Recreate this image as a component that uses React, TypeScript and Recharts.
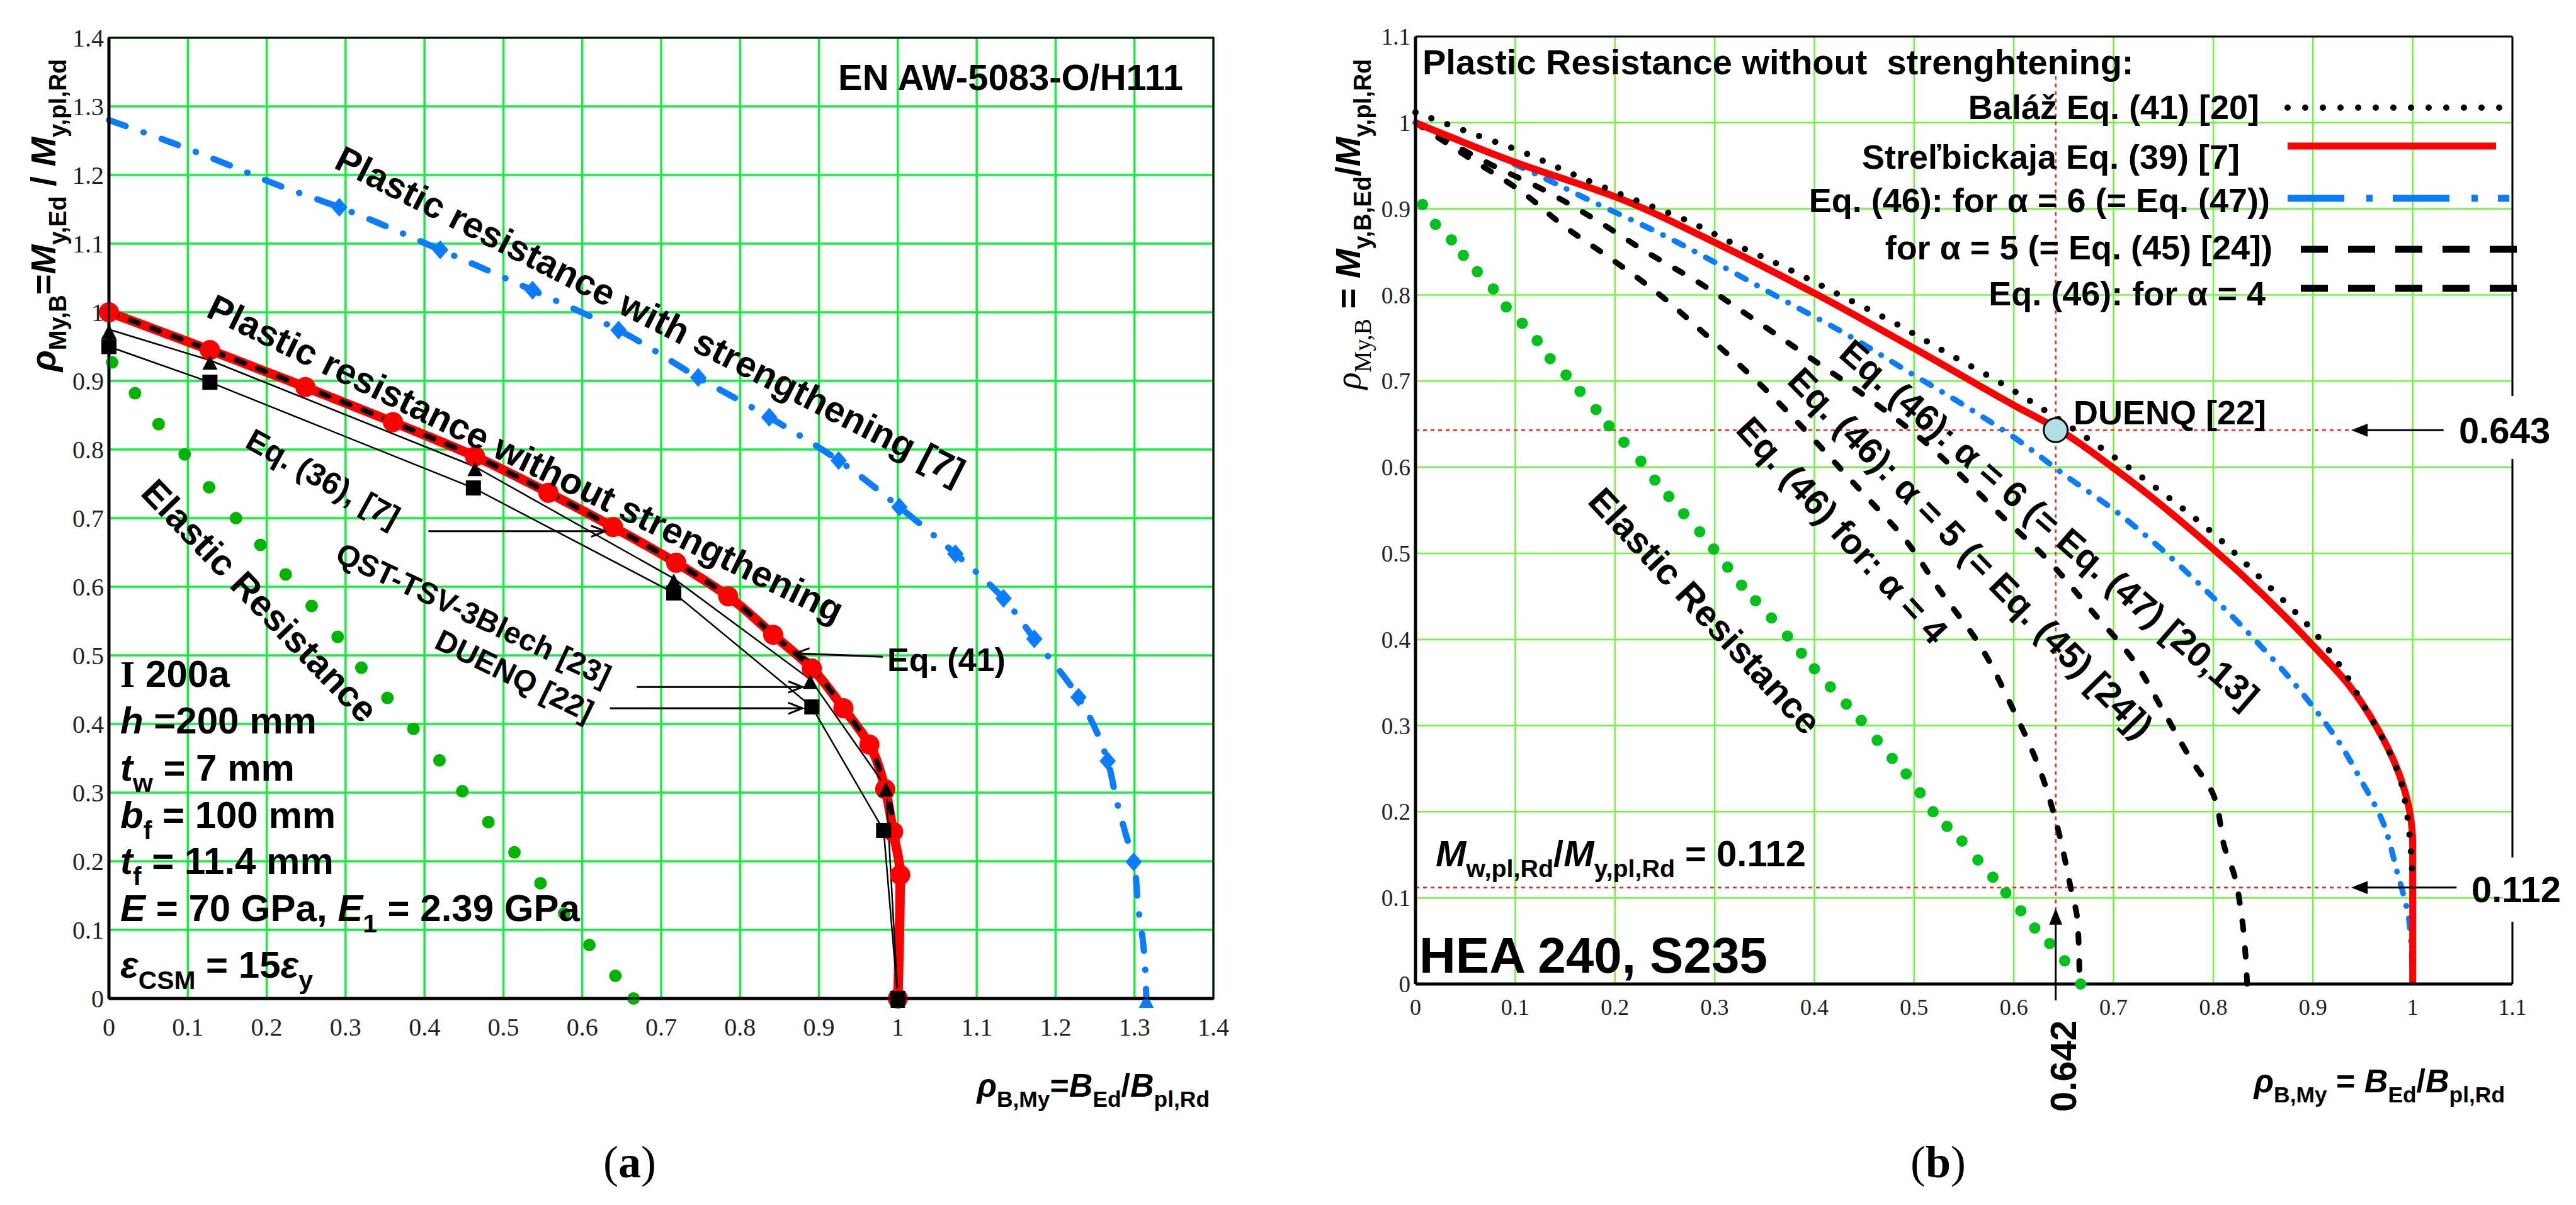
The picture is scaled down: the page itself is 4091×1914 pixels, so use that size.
import React from 'react';
import {
  CartesianGrid,
  Line,
  LineChart,
  ReferenceDot,
  ReferenceLine,
  XAxis,
  YAxis,
} from 'recharts';

type Pt = [number, number];

const SANS = "'Liberation Sans', Arial, sans-serif";
const SERIF = "'Liberation Serif', 'Times New Roman', serif";

// ---------- panel (a): EN AW-5083-O/H111, I 200a ----------
const TICKS_A = [0, 0.1, 0.2, 0.3, 0.4, 0.5, 0.6, 0.7, 0.8, 0.9, 1, 1.1, 1.2, 1.3, 1.4];

const ELASTIC_A: Pt[] = [
  [0.004, 0.927], [0.033, 0.882], [0.063, 0.837], [0.096, 0.793], [0.127, 0.745],
  [0.161, 0.7], [0.192, 0.661], [0.224, 0.618], [0.257, 0.572], [0.29, 0.527],
  [0.32, 0.482], [0.353, 0.438], [0.386, 0.393], [0.419, 0.347], [0.448, 0.302],
  [0.481, 0.257], [0.514, 0.213], [0.547, 0.168], [0.577, 0.124], [0.609, 0.078],
  [0.642, 0.033], [0.665, 0],
];

const STRENGTHENED_A: Pt[] = [
  [0, 1.28], [0.08, 1.247], [0.149, 1.216], [0.217, 1.184], [0.292, 1.153], [0.42, 1.091],
  [0.537, 1.032], [0.646, 0.974], [0.747, 0.905], [0.837, 0.847], [0.925, 0.784],
  [1.002, 0.716], [1.073, 0.648], [1.134, 0.583], [1.173, 0.524], [1.229, 0.439],
  [1.266, 0.346], [1.277, 0.29], [1.288, 0.243], [1.299, 0.199], [1.305, 0.13],
  [1.311, 0.08], [1.315, 0],
];

const STRENGTHENED_MARKS_A: Pt[] = [
  [0.292, 1.153], [0.42, 1.091], [0.537, 1.032], [0.646, 0.974], [0.747, 0.905],
  [0.837, 0.847], [0.925, 0.784], [1.002, 0.716], [1.073, 0.648], [1.134, 0.583],
  [1.173, 0.524], [1.229, 0.439], [1.266, 0.346], [1.299, 0.199],
];

const STRENGTHENED_END_A: Pt[] = [[1.315, 0]];

const EQ36_A: Pt[] = [
  [0, 1.0], [0.128, 0.945], [0.249, 0.891], [0.36, 0.84], [0.464, 0.79], [0.557, 0.737],
  [0.639, 0.687], [0.719, 0.635], [0.785, 0.586], [0.842, 0.53], [0.891, 0.481],
  [0.931, 0.423], [0.964, 0.37], [0.984, 0.305], [0.994, 0.243], [1.003, 0.18], [1.0, 0],
];

const EQ41_A: Pt[] = [
  [0, 1.0], [0.128, 0.945], [0.249, 0.891], [0.36, 0.84], [0.464, 0.79], [0.557, 0.737],
  [0.639, 0.687], [0.719, 0.635], [0.785, 0.586], [0.842, 0.53], [0.891, 0.481],
  [0.931, 0.423], [0.964, 0.368], [0.984, 0.31], [0.998, 0.22],
];

const QST_A: Pt[] = [
  [0, 0.975], [0.128, 0.93], [0.464, 0.775], [0.716, 0.612], [0.889, 0.465], [0.985, 0.308], [1.0, 0],
];

const DUENQ_A: Pt[] = [
  [0, 0.95], [0.128, 0.898], [0.462, 0.744], [0.716, 0.591], [0.891, 0.425], [0.982, 0.245], [1.0, 0],
];

// ---------- panel (b): HEA 240, S235 ----------
const TICKS_B = [0, 0.1, 0.2, 0.3, 0.4, 0.5, 0.6, 0.7, 0.8, 0.9, 1, 1.1];

const ELASTIC_B: Pt[] = [
  [0.007, 0.905], [0.02, 0.882], [0.036, 0.864], [0.048, 0.846], [0.062, 0.827],
  [0.078, 0.807], [0.091, 0.786], [0.107, 0.767], [0.122, 0.747], [0.135, 0.726],
  [0.151, 0.707], [0.165, 0.688], [0.181, 0.667], [0.194, 0.648], [0.209, 0.629],
  [0.226, 0.607], [0.24, 0.585], [0.254, 0.566], [0.269, 0.546], [0.285, 0.525],
  [0.299, 0.505], [0.313, 0.484], [0.327, 0.463], [0.341, 0.445], [0.357, 0.425],
  [0.373, 0.404], [0.387, 0.384], [0.4, 0.366], [0.416, 0.345], [0.432, 0.325],
  [0.447, 0.306], [0.463, 0.283], [0.478, 0.262], [0.492, 0.244], [0.506, 0.222],
  [0.519, 0.2], [0.533, 0.183], [0.548, 0.166], [0.564, 0.144], [0.579, 0.124],
  [0.592, 0.106], [0.607, 0.085], [0.621, 0.065], [0.636, 0.047], [0.651, 0.027],
  [0.667, 0],
];

const STRELBICKAJA_B: Pt[] = [
  [0, 1.0], [0.095, 0.956], [0.2, 0.914], [0.3, 0.861], [0.4, 0.802], [0.5, 0.738],
  [0.6, 0.672], [0.643, 0.645], [0.7, 0.599], [0.8, 0.505], [0.876, 0.422], [0.9, 0.393],
  [0.936, 0.347], [0.963, 0.3], [0.986, 0.245], [0.997, 0.2], [1.0, 0.162], [1.0, 0],
];

const BALAZ_B: Pt[] = [
  [0, 1.012], [0.053, 0.989], [0.107, 0.966], [0.16, 0.939], [0.214, 0.913], [0.267, 0.889],
  [0.32, 0.859], [0.374, 0.83], [0.427, 0.799], [0.481, 0.767], [0.534, 0.732],
  [0.588, 0.697], [0.623, 0.672], [0.659, 0.645], [0.693, 0.618], [0.746, 0.573],
  [0.799, 0.524], [0.852, 0.466], [0.906, 0.402], [0.932, 0.361], [0.952, 0.321],
  [0.972, 0.28], [0.987, 0.24], [0.994, 0.2], [0.998, 0.157], [1.0, 0.12],
];

const ALPHA6_B: Pt[] = [
  [0, 1.0], [0.042, 0.981], [0.112, 0.945], [0.178, 0.908], [0.244, 0.872], [0.308, 0.833],
  [0.369, 0.794], [0.431, 0.755], [0.494, 0.711], [0.55, 0.672], [0.601, 0.634],
  [0.651, 0.591], [0.702, 0.549], [0.747, 0.506], [0.797, 0.452], [0.839, 0.403],
  [0.876, 0.356], [0.902, 0.319], [0.927, 0.279], [0.949, 0.235], [0.969, 0.191],
  [0.984, 0.132], [0.997, 0.068], [1.0, 0],
];

const ALPHA5_B: Pt[] = [
  [0, 1.0], [0.078, 0.95], [0.125, 0.924], [0.181, 0.887], [0.23, 0.851], [0.286, 0.813],
  [0.339, 0.772], [0.392, 0.73], [0.442, 0.69], [0.506, 0.634], [0.55, 0.587],
  [0.589, 0.542], [0.631, 0.496], [0.679, 0.432], [0.718, 0.379], [0.749, 0.319],
  [0.777, 0.262], [0.8, 0.22], [0.812, 0.156], [0.821, 0.127], [0.828, 0.083], [0.834, 0],
];

const ALPHA4_B: Pt[] = [
  [0, 1.0], [0.05, 0.962], [0.105, 0.921], [0.15, 0.879], [0.196, 0.842], [0.243, 0.802],
  [0.287, 0.758], [0.334, 0.709], [0.451, 0.567], [0.489, 0.519], [0.527, 0.455],
  [0.565, 0.395], [0.598, 0.322], [0.626, 0.249], [0.644, 0.181], [0.657, 0.112],
  [0.664, 0.072], [0.666, 0],
];

const DUENQ_POINT_B: Pt = [0.642, 0.643];
const MW_RATIO_B = 0.112;

// ---------- layout ----------
const A_LEFT = 173, A_RIGHT = 1927, A_TOP = 60, A_BOTTOM = 1586;
const B_LEFT = 2248, B_RIGHT = 3990, B_TOP = 58, B_BOTTOM = 1563;
const A_W = 2050, B_X = 2060, B_W = 4091 - 2060, H = 1914;

const ax = (x: number) => A_LEFT + (x / 1.4) * (A_RIGHT - A_LEFT);
const ay = (y: number) => A_BOTTOM - (y / 1.4) * (A_BOTTOM - A_TOP);
const bx = (x: number) => B_LEFT + (x / 1.1) * (B_RIGHT - B_LEFT);
const by = (y: number) => B_BOTTOM - (y / 1.1) * (B_BOTTOM - B_TOP);

const pts = (a: Pt[]) => a.map(([x, y]) => ({ x, y }));
const fmt = (v: number) => String(Math.round(v * 10) / 10);

const RED = '#ff0000';
const BLUE = '#0b7dfc';

const diamondDot = (p: any) =>
  p.cx == null ? <g key={`dm-${p.index}`} /> : (
    <path key={`dm-${p.index}`} fill={BLUE}
      d={`M${p.cx},${p.cy - 15}L${p.cx + 13},${p.cy}L${p.cx},${p.cy + 15}L${p.cx - 13},${p.cy}Z`} />
  );

const triDot = (color: string) => (p: any) =>
  p.cx == null ? <g key={`tr-${p.index}`} /> : (
    <path key={`tr-${p.index}`} fill={color}
      d={`M${p.cx},${p.cy - 8}L${p.cx + 12},${p.cy + 15}L${p.cx - 12},${p.cy + 15}Z`} />
  );

const squareDot = (p: any) =>
  p.cx == null ? <g key={`sq-${p.index}`} /> : (
    <rect key={`sq-${p.index}`} x={p.cx - 12} y={p.cy - 12} width={24} height={24} fill="#000" />
  );

type Part = { t: string; sub?: boolean; it?: boolean; serif?: boolean; normal?: boolean };

function Rich({
  parts, size, x = 0, y = 0, anchor = 'start', transform, bold = true,
}: {
  parts: Part[]; size: number; x?: number; y?: number; anchor?: 'start' | 'middle' | 'end';
  transform?: string; bold?: boolean;
}) {
  let cur = 0;
  return (
    <text x={x} y={y} textAnchor={anchor} transform={transform} fontFamily={SANS}
      fontSize={size} fontWeight={bold ? 700 : 400} fill="#000" style={{ whiteSpace: 'pre' }}>
      {parts.map((p, i) => {
        const target = p.sub ? size * 0.3 : 0;
        const dy = target - cur;
        cur = target;
        return (
          <tspan key={i} dy={dy} fontSize={p.sub ? size * 0.68 : size}
            fontStyle={p.it ? 'italic' : 'normal'} fontFamily={p.serif ? SERIF : SANS}
            fontWeight={p.normal ? 400 : undefined}>
            {p.t}
          </tspan>
        );
      })}
    </text>
  );
}

function Label({ x, y, angle, size = 58, bold = true, children }: {
  x: number; y: number; angle: number; size?: number; bold?: boolean; children: string;
}) {
  return (
    <text transform={`translate(${x},${y}) rotate(${angle})`} textAnchor="middle"
      dominantBaseline="central" fontFamily={SANS} fontSize={size}
      fontWeight={bold ? 700 : 400} fill="#000">
      {children}
    </text>
  );
}

function Arrow({ x1, y1, x2, y2, w = 3, head = 24, filled = false }: {
  x1: number; y1: number; x2: number; y2: number; w?: number; head?: number; filled?: boolean;
}) {
  const a = Math.atan2(y2 - y1, x2 - x1);
  const p1 = [x2 - head * Math.cos(a - 0.38), y2 - head * Math.sin(a - 0.38)];
  const p2 = [x2 - head * Math.cos(a + 0.38), y2 - head * Math.sin(a + 0.38)];
  return (
    <g stroke="#000" strokeWidth={w} fill={filled ? '#000' : 'none'}>
      <line x1={x1} y1={y1} x2={x2} y2={y2} />
      {filled ? (
        <path d={`M${x2},${y2}L${p1[0]},${p1[1]}L${p2[0]},${p2[1]}Z`} />
      ) : (
        <path d={`M${p1[0]},${p1[1]}L${x2},${y2}L${p2[0]},${p2[1]}`} />
      )}
    </g>
  );
}

function PanelA() {
  return (
    <LineChart width={A_W} height={H}
      margin={{ top: A_TOP, right: A_W - A_RIGHT, bottom: H - A_BOTTOM - 60, left: 0 }}>
      <CartesianGrid stroke="#12f03c" strokeWidth={3.5} />
      <XAxis type="number" dataKey="x" domain={[0, 1.4]} ticks={TICKS_A} interval={0}
        height={60} tickSize={0} tickMargin={31} tickFormatter={fmt}
        axisLine={{ stroke: '#000', strokeWidth: 5 }}
        tick={{ fontFamily: SERIF, fontSize: 40, fill: '#222' }} />
      <YAxis type="number" domain={[0, 1.4]} ticks={TICKS_A} interval={0}
        width={A_LEFT} tickSize={0} tickMargin={8} tickFormatter={fmt}
        axisLine={{ stroke: '#000', strokeWidth: 5 }}
        tick={{ fontFamily: SERIF, fontSize: 40, fill: '#222' }} />
      <Line data={pts(ELASTIC_A)} dataKey="y" stroke="none" isAnimationActive={false}
        dot={{ r: 10, fill: '#00b400', stroke: 'none' }} activeDot={false} />
      <Line data={pts(STRENGTHENED_A)} dataKey="y" type="monotoneY" stroke={BLUE} strokeWidth={10}
        strokeDasharray="28 30 0.5 30" strokeLinecap="round" dot={false} activeDot={false}
        isAnimationActive={false} />
      <Line data={pts(STRENGTHENED_MARKS_A)} dataKey="y" stroke="none" dot={diamondDot}
        activeDot={false} isAnimationActive={false} />
      <Line data={pts(STRENGTHENED_END_A)} dataKey="y" stroke="none" dot={triDot(BLUE)}
        activeDot={false} isAnimationActive={false} />
      <Line data={pts(EQ36_A)} dataKey="y" type="monotoneY" stroke={RED} strokeWidth={15}
        dot={{ r: 16, fill: RED, stroke: 'none' }} activeDot={false} isAnimationActive={false} />
      <Line data={pts(EQ41_A)} dataKey="y" type="monotoneY" stroke="#000" strokeWidth={8}
        strokeDasharray="14 22" strokeLinecap="round" dot={false} activeDot={false}
        isAnimationActive={false} />
      <Line data={pts(QST_A)} dataKey="y" stroke="#000" strokeWidth={2.5}
        dot={triDot('#000')} activeDot={false} isAnimationActive={false} />
      <Line data={pts(DUENQ_A)} dataKey="y" stroke="#000" strokeWidth={2.5}
        dot={squareDot} activeDot={false} isAnimationActive={false} />
    </LineChart>
  );
}

function PanelB() {
  return (
    <LineChart width={B_W} height={H}
      margin={{ top: B_TOP, right: B_X + B_W - B_RIGHT, bottom: H - B_BOTTOM - 60, left: 0 }}>
      <CartesianGrid stroke="#6cf93c" strokeWidth={2.5} />
      <XAxis type="number" dataKey="x" domain={[0, 1.1]} ticks={TICKS_B} interval={0}
        height={60} tickSize={0} tickMargin={23} tickFormatter={fmt}
        axisLine={{ stroke: '#000', strokeWidth: 5 }}
        tick={{ fontFamily: SERIF, fontSize: 36, fill: '#222' }} />
      <YAxis type="number" domain={[0, 1.1]} ticks={TICKS_B} interval={0}
        width={B_LEFT - B_X} tickSize={0} tickMargin={8} tickFormatter={fmt}
        axisLine={{ stroke: '#000', strokeWidth: 5 }}
        tick={{ fontFamily: SERIF, fontSize: 37, fill: '#222' }} />
      <ReferenceLine segment={[{ x: 0, y: DUENQ_POINT_B[1] }, { x: 0.941, y: DUENQ_POINT_B[1] }]}
        stroke="#ff2020" strokeWidth={2.5} strokeDasharray="6 6" />
      <ReferenceLine segment={[{ x: 0, y: MW_RATIO_B }, { x: 0.941, y: MW_RATIO_B }]}
        stroke="#ff2020" strokeWidth={2.5} strokeDasharray="6 6" />
      <ReferenceLine segment={[{ x: DUENQ_POINT_B[0], y: 0.085 }, { x: DUENQ_POINT_B[0], y: 1.055 }]}
        stroke="#ff2020" strokeWidth={2.5} strokeDasharray="6 6" />
      <Line data={pts(ELASTIC_B)} dataKey="y" stroke="none" isAnimationActive={false}
        dot={{ r: 9, fill: '#00c21a', stroke: 'none' }} activeDot={false} />
      <Line data={pts(ALPHA4_B)} dataKey="y" type="monotoneY" stroke="#000" strokeWidth={9}
        strokeDasharray="14 29" strokeLinecap="round" dot={false} activeDot={false}
        isAnimationActive={false} />
      <Line data={pts(ALPHA5_B)} dataKey="y" type="monotoneY" stroke="#000" strokeWidth={9}
        strokeDasharray="14 29" strokeLinecap="round" dot={false} activeDot={false}
        isAnimationActive={false} />
      <Line data={pts(ALPHA6_B)} dataKey="y" type="monotoneY" stroke={BLUE} strokeWidth={9}
        strokeDasharray="16 20 0.5 20" strokeLinecap="round" dot={false} activeDot={false}
        isAnimationActive={false} />
      <Line data={pts(STRELBICKAJA_B)} dataKey="y" type="monotoneY" stroke={RED} strokeWidth={11}
        dot={false} activeDot={false} isAnimationActive={false} />
      <Line data={pts(BALAZ_B)} dataKey="y" type="monotoneY" stroke="#000" strokeWidth={10}
        strokeDasharray="0 27" strokeLinecap="round" dot={false} activeDot={false}
        isAnimationActive={false} />
      <ReferenceDot x={DUENQ_POINT_B[0]} y={DUENQ_POINT_B[1]} r={19} fill="#b0e0e6"
        stroke="#000" strokeWidth={3} />
    </LineChart>
  );
}

function Overlay() {
  const infoY = [1091, 1165, 1240, 1315, 1388, 1463, 1553];
  const info: Part[][] = [
    [{ t: 'I', serif: true }, { t: ' 200a' }],
    [{ t: 'h', it: true }, { t: ' =200 mm' }],
    [{ t: 't', it: true }, { t: 'w', sub: true }, { t: ' = 7 mm' }],
    [{ t: 'b', it: true }, { t: 'f', sub: true }, { t: ' = 100 mm' }],
    [{ t: 't', it: true }, { t: 'f', sub: true }, { t: ' = 11.4 mm' }],
    [{ t: 'E', it: true }, { t: ' = 70 GPa, ' }, { t: 'E', it: true }, { t: '1', sub: true }, { t: ' = 2.39 GPa' }],
    [{ t: 'ε', it: true }, { t: 'CSM', sub: true }, { t: ' = 15' }, { t: 'ε', it: true }, { t: 'y', sub: true }],
  ];
  const legendX0 = 3633, legendX1 = 3985;
  return (
    <svg width={4091} height={H}
      style={{ position: 'absolute', left: 0, top: 0, pointerEvents: 'none' }}>
      {/* ---- panel (a) ---- */}
      <rect x={A_LEFT} y={A_TOP} width={A_RIGHT - A_LEFT} height={A_BOTTOM - A_TOP}
        fill="none" stroke="#000" strokeWidth={3} />
      <text x={1879} y={143} textAnchor="end" fontFamily={SANS} fontSize={58} fontWeight={700}>
        EN AW-5083-O/H111
      </text>
      <Label x={1033} y={500} angle={27}>Plastic resistance with strengthening [7]</Label>
      <Label x={835} y={728} angle={26}>Plastic resistance without strengthening</Label>
      <Label x={413} y={954} angle={46}>Elastic Resistance</Label>
      <Label x={513} y={760} angle={29} size={50}>Eq. (36), [7]</Label>
      <Label x={752} y={976} angle={25} size={48}>QST-TSV-3Blech [23]</Label>
      <Label x={817} y={1073} angle={26} size={48}>DUENQ [22]</Label>
      <text x={1409} y={1066} fontFamily={SANS} fontSize={52} fontWeight={700}>Eq. (41)</text>
      <Arrow x1={ax(0.405)} y1={ay(0.681)} x2={ax(0.629)} y2={ay(0.681)} />
      <Arrow x1={ax(0.669)} y1={ay(0.454)} x2={ax(0.879)} y2={ay(0.454)} />
      <Arrow x1={ax(0.635)} y1={ay(0.423)} x2={ax(0.879)} y2={ay(0.423)} />
      <Arrow x1={ax(0.981)} y1={ay(0.498)} x2={ax(0.87)} y2={ay(0.503)} />
      {info.map((parts, i) => (
        <Rich key={i} parts={parts} size={60} x={191} y={infoY[i]} />
      ))}
      <Rich size={56} anchor="middle" transform="translate(88,342) rotate(-90)"
        parts={[{ t: 'ρ', it: true }, { t: 'My,B', sub: true }, { t: '=' }, { t: 'M', it: true },
          { t: 'y,Ed', sub: true }, { t: ' / ' }, { t: 'M', it: true }, { t: 'y,pl,Rd', sub: true }]} />
      <Rich size={52} anchor="end" x={1921} y={1742}
        parts={[{ t: 'ρ', it: true }, { t: 'B,My', sub: true }, { t: '=' }, { t: 'B', it: true },
          { t: 'Ed', sub: true }, { t: '/' }, { t: 'B', it: true }, { t: 'pl,Rd', sub: true }]} />
      <text x={1000} y={1870} textAnchor="middle" fontFamily={SERIF} fontSize={72}>
        (<tspan fontWeight={700}>a</tspan>)
      </text>

      {/* ---- panel (b) ---- */}
      <line x1={B_LEFT} y1={B_TOP} x2={B_RIGHT} y2={B_TOP} stroke="#000" strokeWidth={3} />
      <line x1={B_RIGHT} y1={B_TOP} x2={B_RIGHT} y2={B_BOTTOM} stroke="#000" strokeWidth={3} />
      <rect x={3975} y={629} width={40} height={100} fill="#fff" />
      <rect x={3975} y={1362} width={40} height={102} fill="#fff" />
      <text x={2259} y={118} fontFamily={SANS} fontSize={56} fontWeight={700} style={{ whiteSpace: 'pre' }}>
        Plastic Resistance without  strenghtening:
      </text>
      <g fontFamily={SANS} fontSize={54} fontWeight={700} textAnchor="end">
        <text x={3588} y={189}>Baláž Eq. (41) [20]</text>
        <text x={3557} y={268}>Streľbickaja Eq. (39) [7]</text>
        <text x={3605} y={337}>Eq. (46): for α = 6 (= Eq. (47))</text>
        <text x={3609} y={412}>for α = 5 (= Eq. (45) [24])</text>
        <text x={3598} y={485}>Eq. (46): for α = 4</text>
      </g>
      <line x1={legendX0} y1={171} x2={legendX1} y2={171} stroke="#000" strokeWidth={10}
        strokeDasharray="0 28" strokeLinecap="round" />
      <line x1={legendX0} y1={232} x2={3964} y2={232} stroke={RED} strokeWidth={11} />
      <line x1={legendX0} y1={315} x2={legendX1} y2={315} stroke={BLUE} strokeWidth={11}
        strokeDasharray="90 35 10 32" />
      <line x1={3654} y1={396} x2={4002} y2={396} stroke="#000" strokeWidth={11}
        strokeDasharray="43 32" />
      <line x1={3654} y1={458} x2={4002} y2={458} stroke="#000" strokeWidth={11}
        strokeDasharray="43 32" />
      <text x={3293} y={674} fontFamily={SANS} fontSize={54} fontWeight={700}>DUENQ [22]</text>
      <text x={3905} y={704} fontFamily={SANS} fontSize={58} fontWeight={700}>0.643</text>
      <text x={3925} y={1433} fontFamily={SANS} fontSize={58} fontWeight={700}>0.112</text>
      <text transform="translate(3297,1766) rotate(-90)" fontFamily={SANS} fontSize={58}
        fontWeight={700}>0.642</text>
      <Arrow x1={bx(1.031)} y1={by(0.643)} x2={bx(0.941)} y2={by(0.643)} filled head={22} />
      <Arrow x1={bx(1.044)} y1={by(0.112)} x2={bx(0.941)} y2={by(0.112)} filled head={22} />
      <Arrow x1={bx(0.642)} y1={by(-0.019)} x2={bx(0.642)} y2={by(0.085)} filled head={22} />
      <Label x={2708} y={970} angle={47}>Elastic Resistance</Label>
      <Label x={3255} y={832} angle={41} size={57}>Eq. (46): α = 6 (= Eq. (47) [20,13]</Label>
      <Label x={3130} y={878} angle={45.5} size={57}>Eq. (46): α = 5 (= Eq. (45) [24])</Label>
      <Label x={2926} y={842} angle={47.5} size={57}>Eq. (46) for: α = 4</Label>
      <Rich size={58} x={2280} y={1376}
        parts={[{ t: 'M', it: true }, { t: 'w,pl,Rd', sub: true }, { t: '/' }, { t: 'M', it: true },
          { t: 'y,pl,Rd', sub: true }, { t: ' = 0.112' }]} />
      <text x={2254} y={1545} fontFamily={SANS} fontSize={80} fontWeight={700}>HEA 240, S235</text>
      <Rich size={56} anchor="middle" transform="translate(2160,356) rotate(-90)"
        parts={[{ t: 'ρ', it: true, serif: true, normal: true }, { t: 'My,B', sub: true, serif: true, normal: true },
          { t: ' = ' }, { t: 'M', it: true }, { t: 'y,B,Ed', sub: true }, { t: '/' }, { t: 'M', it: true },
          { t: 'y,pl,Rd', sub: true }]} />
      <Rich size={52} anchor="end" x={3978} y={1735}
        parts={[{ t: 'ρ', it: true }, { t: 'B,My', sub: true }, { t: ' = ' }, { t: 'B', it: true },
          { t: 'Ed', sub: true }, { t: '/' }, { t: 'B', it: true }, { t: 'pl,Rd', sub: true }]} />
      <text x={3078} y={1870} textAnchor="middle" fontFamily={SERIF} fontSize={72}>
        (<tspan fontWeight={700}>b</tspan>)
      </text>
    </svg>
  );
}

export default function App() {
  return (
    <div style={{ position: 'absolute', left: 0, top: 0, width: 4091, height: H, background: '#fff', overflow: 'hidden' }}>
      <div style={{ position: 'absolute', left: 0, top: 0 }}>
        <PanelA />
      </div>
      <div style={{ position: 'absolute', left: B_X, top: 0 }}>
        <PanelB />
      </div>
      <Overlay />
    </div>
  );
}
